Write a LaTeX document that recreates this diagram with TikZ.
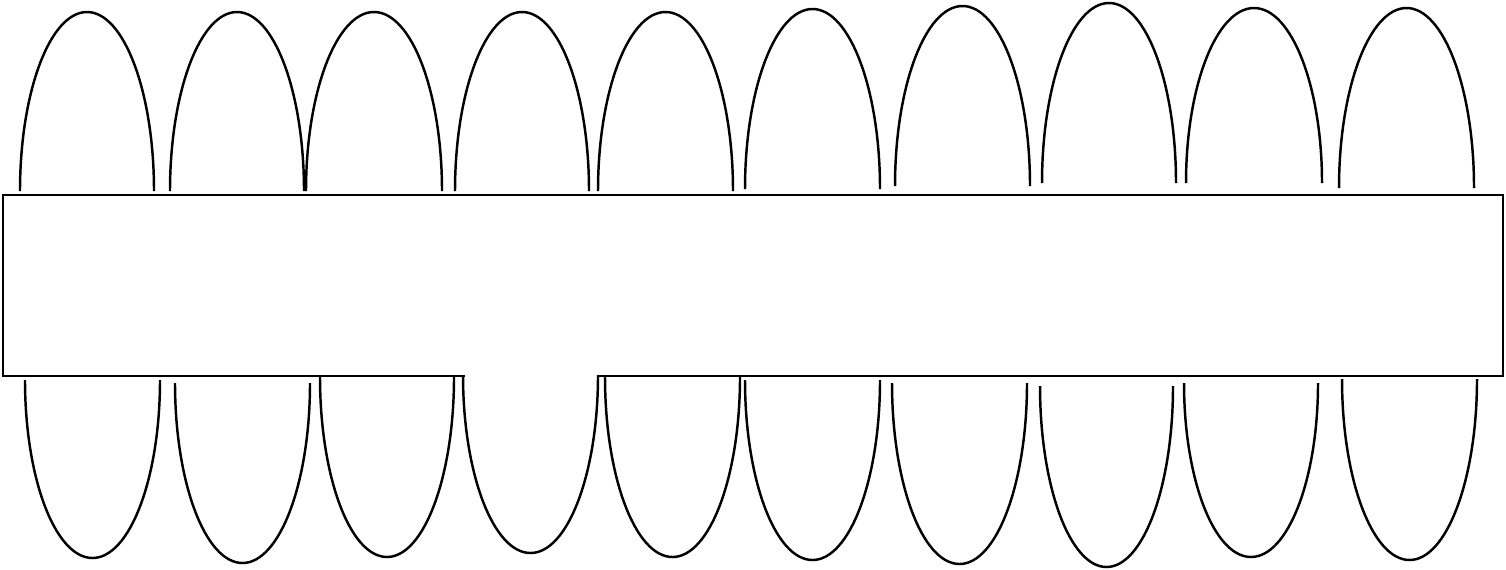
\documentclass[tikz,border=0pt]{standalone}
\begin{document}
\begin{tikzpicture}[x=0.02cm,y=-0.02cm,
  arch/.style={draw=black,line width=1.4pt},
  box/.style={draw=black,line width=1.4pt}]
\useasboundingbox (0,0) rectangle (1506,569);
\draw[box] (3,195) rectangle (1503,376);
\fill[white] (465,373) rectangle (597,378.5);
% top arches: left x, right x, end y, apex y
\foreach \l/\r/\e/\t in {20/154/191/12, 170/304/191/12, 306/442/191/12, 455/589/191/12,
  598/733/191/12, 745/880/189/9, 895/1030/186/6, 1042/1176/183/3, 1186/1322/183/8, 1339/1474/188/8}{
  \pgfmathsetmacro{\rx}{(\r-\l)/2*0.02}
  \pgfmathsetmacro{\ry}{(\e-\t)*0.02}
  \draw[arch] (\l,\e) arc[start angle=180,end angle=0,x radius=\rx cm,y radius=\ry cm];
}
% bottom arches: left x, right x, end y, lowest y
\foreach \l/\r/\e/\t in {25/160/380/558, 175/310/383/563, 320/454/377/557, 463/598/375/553,
  605/740/377/557, 745/880/380/560, 892/1027/383/564, 1040/1173/386/567, 1184/1318/383/557, 1342/1477/379/560}{
  \pgfmathsetmacro{\rx}{(\r-\l)/2*0.02}
  \pgfmathsetmacro{\ry}{(\t-\e)*0.02}
  \draw[arch] (\l,\e) arc[start angle=180,end angle=360,x radius=\rx cm,y radius=\ry cm];
}
\end{tikzpicture}
\end{document}
